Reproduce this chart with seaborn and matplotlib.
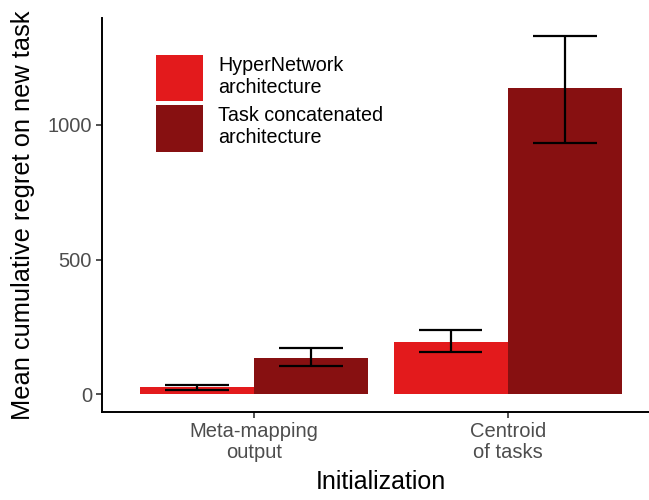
import matplotlib
matplotlib.use("Agg")
import matplotlib.pyplot as plt
import seaborn as sns
import pandas as pd

# Data: mean cumulative regret with error-bar bounds
initializations = ["Meta-mapping\noutput", "Centroid\nof tasks"]
architectures = ["HyperNetwork\narchitecture", "Task concatenated\narchitecture"]
hyper_mean = [25, 192]
hyper_lower = [16, 155]
hyper_upper = [33, 240]
concat_mean = [133, 1136]
concat_lower = [103, 932]
concat_upper = [171, 1331]
y_ticks = [0, 500, 1000]

palette = {architectures[0]: "#E31A1C", architectures[1]: "#871011"}

df = pd.DataFrame({
    "Initialization": initializations * 2,
    "Architecture": [architectures[0]] * 2 + [architectures[1]] * 2,
    "mean": hyper_mean + concat_mean,
    "lower": hyper_lower + concat_lower,
    "upper": hyper_upper + concat_upper,
})

sns.set_theme(style="ticks")
plt.rcParams["font.family"] = ["Liberation Sans", "DejaVu Sans"]

fig = plt.figure(figsize=(6.49, 5.0), dpi=100)
ax = fig.add_axes([0.1569, 0.176, 0.8601, 0.788])

sns.barplot(data=df, x="Initialization", y="mean", hue="Architecture",
            hue_order=architectures, order=initializations, palette=palette,
            width=0.9, errorbar=None, saturation=1, linewidth=0, ax=ax)

# Error bars centred on each drawn bar
cap_half = 0.125
for container, arch in zip(ax.containers, architectures):
    sub = df[df["Architecture"] == arch].set_index("Initialization").loc[initializations]
    for bar, lo, hi in zip(container, sub["lower"], sub["upper"]):
        xc = bar.get_x() + bar.get_width() / 2
        ax.vlines(xc, lo, hi, color="black", lw=1.6, zorder=5)
        ax.hlines([lo, hi], xc - cap_half, xc + cap_half, color="black", lw=1.6, zorder=5)

ymax = max(hyper_upper + concat_upper)
pad = 0.05 * ymax
ax.set_ylim(-pad, ymax + pad)
ax.set_xlim(-0.6, 1.6)
ax.set_yticks(y_ticks)
ax.set_yticklabels([str(t) for t in y_ticks])

sns.despine(ax=ax)
for side in ["left", "bottom"]:
    ax.spines[side].set_linewidth(1.4)
    ax.spines[side].set_color("black")
ax.tick_params(axis="both", length=4, width=1.2, color="#333333",
               labelsize=14.5, labelcolor="#4D4D4D", pad=3)
for lbl in ax.get_xticklabels():
    lbl.set_linespacing(1.15)

ax.set_xlabel("Initialization", fontsize=18, color="black", labelpad=6)
ax.set_ylabel("Mean cumulative regret on new task", fontsize=18.3, color="black", labelpad=9)

handles, labels = ax.get_legend_handles_labels()
leg = ax.legend(handles, labels, loc="upper left",
                bbox_to_anchor=(156 / 649, 1 - 55 / 500), bbox_transform=fig.transFigure,
                frameon=False, fontsize=14.2, handlelength=2.38, handleheight=3.25,
                handletextpad=0.76, labelspacing=0.18, borderpad=0, borderaxespad=0,
                title=None)
for t in leg.get_texts():
    t.set_linespacing(1.2)
    t.set_color("black")

fig.savefig("out.png", dpi=100)
